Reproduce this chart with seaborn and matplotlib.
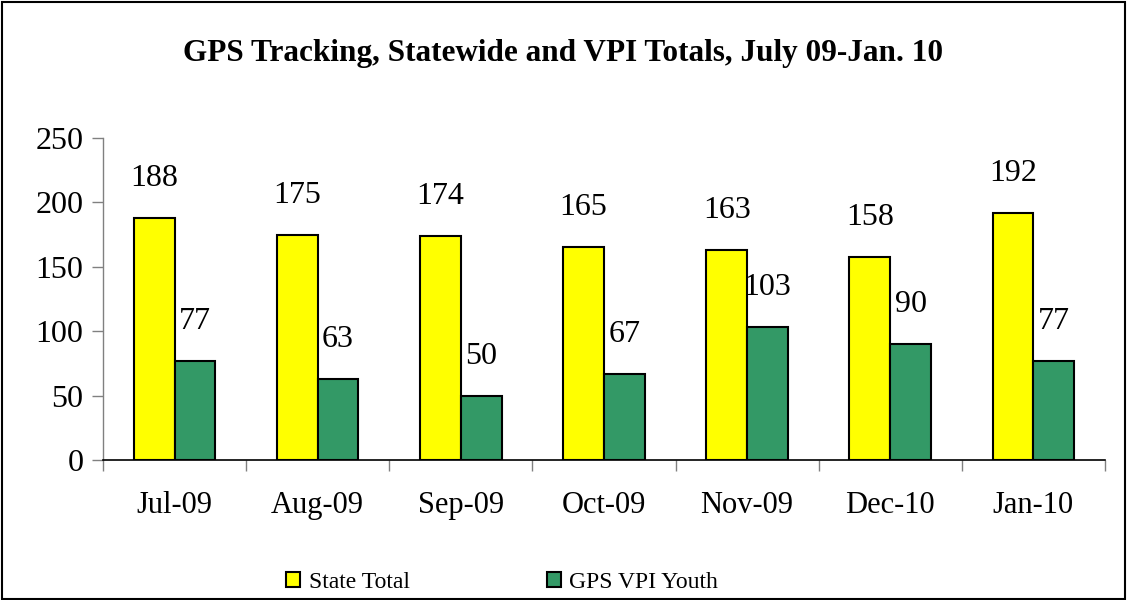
import seaborn as sns
import matplotlib.pyplot as plt
import matplotlib.patches as mpatches
import pandas as pd

months = ['Jul-09', 'Aug-09', 'Sep-09', 'Oct-09', 'Nov-09', 'Dec-10', 'Jan-10']
state_total = [188, 175, 174, 165, 163, 158, 192]
gps_vpi_youth = [77, 63, 50, 67, 103, 90, 77]
series = ['State Total', 'GPS VPI Youth']

df = pd.DataFrame({
    'Month': months * 2,
    'Series': [series[0]] * len(months) + [series[1]] * len(months),
    'Value': state_total + gps_vpi_youth,
})

sns.set_style('white')
plt.rcParams['font.family'] = ['Liberation Serif', 'DejaVu Serif']
plt.rcParams['text.color'] = 'black'
plt.rcParams['xtick.color'] = 'black'
plt.rcParams['ytick.color'] = 'black'

fig = plt.figure(figsize=(11.27, 6.0), dpi=100)
ax = fig.add_axes([0.0914, 0.2333, 0.889, 0.5367])

palette = {'State Total': '#FFFF00', 'GPS VPI Youth': '#339966'}
sns.barplot(data=df, x='Month', y='Value', hue='Series', order=months,
            hue_order=series, palette=palette, width=0.57, gap=0,
            edgecolor='black', linewidth=1.5, saturation=1, ax=ax)

for cont in ax.containers:
    ax.bar_label(cont, padding=18, fontsize=23)

ax.set_ylim(0, 250)
ax.set_yticks([0, 50, 100, 150, 200, 250])
ax.set_xlim(-0.5, len(months) - 0.5)
ax.set_xlabel('')
ax.set_ylabel('')
ax.tick_params(axis='y', labelsize=23, left=True, length=8, color='#808080', width=1, pad=6)
ax.tick_params(axis='x', labelsize=22, bottom=False, pad=19)
ax.set_xticks([i - 0.5 for i in range(len(months) + 1)], minor=True)
ax.tick_params(axis='x', which='minor', bottom=True, length=8, color='#808080', width=1)
for s in ['top', 'right']:
    ax.spines[s].set_visible(False)
ax.spines['left'].set_color('#808080')
ax.spines['left'].set_linewidth(1)
ax.spines['bottom'].set_color('black')
ax.spines['bottom'].set_linewidth(1.2)

ax.legend_.remove()
handles = [mpatches.Patch(facecolor=palette[s], edgecolor='black', linewidth=1.5, label=s) for s in series]
fig.legend(handles=handles, loc='center', bbox_to_anchor=(0.4455, 0.03), ncol=2, frameon=False,
           fontsize=17, handlelength=0.6, handleheight=0.6, columnspacing=5.8, handletextpad=0.35)

fig.suptitle('GPS Tracking, Statewide and VPI Totals, July 09-Jan. 10', y=0.935,
             fontsize=22.5, fontweight='bold')

fig.add_artist(mpatches.Rectangle((0.002, 0.002), 0.996, 0.995, transform=fig.transFigure,
                                  fill=False, edgecolor='black', linewidth=1.5))

plt.savefig('out.png', dpi=100)
